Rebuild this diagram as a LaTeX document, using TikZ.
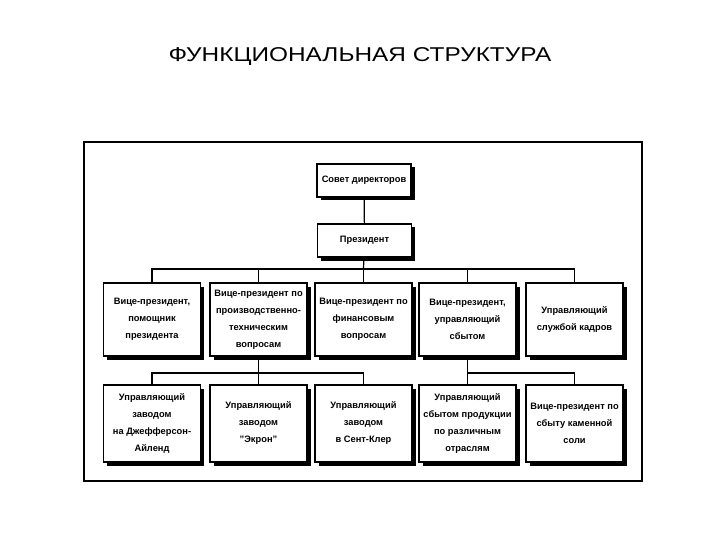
\documentclass[tikz,border=0pt]{standalone}
\usepackage{fontspec}
\setmainfont{Liberation Sans}
\usetikzlibrary{shadows}

\begin{document}
\begin{tikzpicture}[x=1pt, y=-1pt, line join=miter,
  unit/.style={draw=black, line width=1.3pt, fill=white, align=center, inner sep=1pt,
    font=\bfseries\fontsize{9.3}{17}\selectfont,
    drop shadow={shadow xshift=3.5pt, shadow yshift=-3.5pt, fill=black, opacity=1}},
  top/.style={unit, minimum width=94pt, minimum height=33pt},
  row/.style={unit, minimum width=97pt, minimum height=73pt},
  low/.style={unit, minimum width=97pt, minimum height=77pt},
  link/.style={draw=black, line width=1.2pt}]
  \useasboundingbox (0,0) rectangle (720,540);
  \node[font=\fontsize{20}{22}\selectfont, xscale=1.22] (title) at (360,57) {ФУНКЦИОНАЛЬНАЯ СТРУКТУРА};
  \draw[line width=1.3pt] (84,142) rectangle (642,481);

  \node[top] (board) at (364,180.5) {Совет директоров};
  \node[top] (president) at (364.5,240.5) {Президент};

  \node[row] (vpassist) at (152,319.5) {Вице-президент,\\помощник\\президента};
  \node[row] (vpprod) at (258.5,319.5) {Вице-президент по\\производственно-\\техническим\\вопросам};
  \node[row] (vpfinance) at (363.5,319.5) {Вице-президент по\\финансовым\\вопросам};
  \node[row] (vpsales) at (467.5,319.5) {Вице-президент,\\управляющий\\сбытом};
  \node[row] (hrmgr) at (574.5,319.5) {Управляющий\\службой кадров};

  \node[low] (plantjeff) at (152,423.5) {Управляющий\\заводом\\на Джефферсон-\\Айленд};
  \node[low] (plantakron) at (258.5,423.5) {Управляющий\\заводом\\"Экрон"};
  \node[low] (plantstclair) at (363.5,423.5) {Управляющий\\заводом\\в Сент-Клер};
  \node[low] (salesmgr) at (467.5,423.5) {Управляющий\\сбытом продукции\\по различным\\отраслям};
  \node[low] (vpsalt) at (574.5,423.5) {Вице-президент по\\сбыту каменной\\соли};

  \coordinate (busmain) at (363.5,269);
  \coordinate (busprod) at (258.5,373);
  \coordinate (bussales) at (467.5,373);

  \draw[link] (board) -- (president);
  \draw[link] (president) -- (busmain);
  \draw[link] (vpassist.north) |- (busmain) -| (hrmgr.north);
  \draw[link] (vpprod.north) |- (busmain);
  \draw[link] (vpsales.north) |- (busmain);
  \draw[link] (busmain) -- (vpfinance.north);

  \draw[link] (vpprod) -- (plantakron);
  \draw[link] (plantjeff.north) |- (busprod) -| (plantstclair.north);
  \draw[link] (vpsales) -- (salesmgr);
  \draw[link] (bussales) -| (vpsalt.north);
\end{tikzpicture}
\end{document}
